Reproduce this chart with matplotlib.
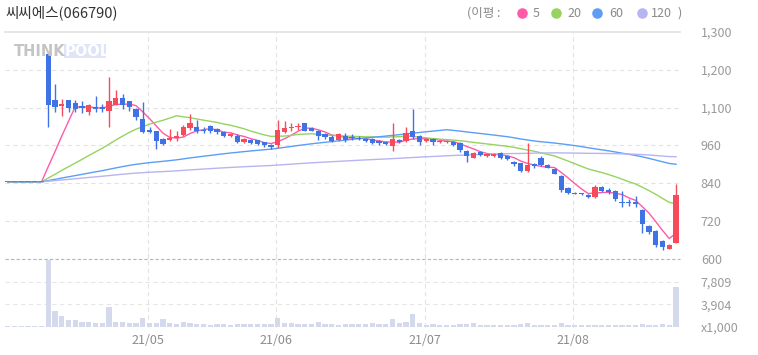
import numpy as np
import pandas as pd
import matplotlib
matplotlib.use("Agg")
import matplotlib.pyplot as plt
from matplotlib.patches import FancyBboxPatch

plt.rcParams['font.family'] = ['Noto Sans CJK KR', 'DejaVu Sans']

title = "씨씨에스(066790)"

# ---- data (6 flat halted days at 845, then 94 trading days) ----
opens = [845]*6 + [1251, 1104, 1086, 1104, 1094, 1086, 1067, 1083, 1083, 1068,
         1089, 1111, 1100, 1076, 1044, 1010, 1007, 981, 978, 984,
         994, 1015, 1020, 1010, 1023, 1013, 1002, 991, 991, 970,
         976, 976, 970, 962, 960, 1002, 1016, 1018, 1030, 1016,
         1007, 997, 988, 978, 991, 988, 984, 981, 981, 975,
         972, 957, 978, 974, 1007, 989, 973, 980, 970, 970,
         970, 969, 944, 922, 940, 928, 928, 937, 926, 909,
         904, 878, 900, 920, 897, 886, 865, 826, 808, 808,
         802, 797, 830, 818, 815, 781, 781, 782, 757, 706,
         689, 657, 634, 652]
highs = [845]*6 + [1255, 1155, 1107, 1104, 1104, 1101, 1092, 1118, 1092, 1176,
         1136, 1123, 1100, 1080, 1097, 1020, 1007, 985, 1013, 1005,
         1025, 1060, 1041, 1020, 1025, 1016, 1005, 1000, 995, 985,
         980, 978, 972, 965, 1041, 1036, 1030, 1030, 1032, 1018,
         1010, 1000, 992, 1000, 1000, 997, 990, 985, 985, 978,
         975, 1030, 982, 1017, 1076, 992, 985, 983, 978, 977,
         973, 972, 946, 940, 943, 936, 936, 940, 929, 912,
         906, 968, 905, 928, 900, 888, 866, 828, 812, 810,
         806, 836, 833, 826, 818, 815, 790, 800, 760, 710,
         692, 660, 648, 839]
lows = [845]*6 + [1020, 1065, 1052, 1065, 1065, 1062, 1058, 1067, 1067, 1020,
        1089, 1076, 1070, 1040, 998, 998, 950, 960, 975, 975,
        990, 1010, 1000, 1000, 1000, 997, 988, 988, 967, 967,
        965, 960, 955, 950, 953, 1000, 1005, 1010, 1005, 1005,
        978, 981, 970, 975, 970, 978, 978, 970, 965, 962,
        960, 944, 968, 970, 980, 962, 970, 960, 968, 968,
        958, 940, 907, 920, 928, 925, 925, 918, 915, 895,
        875, 876, 890, 895, 888, 869, 812, 808, 805, 804,
        795, 795, 812, 808, 785, 765, 768, 765, 683, 680,
        638, 631, 632, 650]
closes = [845]*6 + [1088, 1081, 1092, 1078, 1076, 1078, 1089, 1076, 1075, 1100,
          1111, 1089, 1081, 1049, 1002, 1004, 973, 965, 984, 991,
          1020, 1030, 1005, 1005, 1005, 1004, 991, 997, 970, 981,
          969, 965, 960, 956, 1010, 1016, 1020, 1023, 1007, 1007,
          991, 986, 974, 995, 978, 984, 981, 975, 967, 967,
          965, 981, 972, 999, 986, 970, 981, 970, 975, 974,
          962, 947, 926, 937, 930, 933, 933, 922, 918, 902,
          878, 897, 895, 898, 890, 871, 818, 811, 807, 806,
          797, 830, 815, 812, 790, 778, 778, 774, 713, 686,
          644, 639, 646, 802]
volumes = [200]*6 + [11600, 2700, 1860, 1080, 1080, 900, 900, 720, 720, 3480,
           900, 900, 720, 720, 1440, 720, 720, 1260, 720, 540,
           900, 720, 540, 480, 360, 480, 480, 360, 480, 480,
           480, 480, 480, 480, 1440, 720, 720, 540, 540, 540,
           780, 540, 540, 360, 540, 540, 540, 540, 720, 480,
           480, 1260, 660, 780, 2160, 720, 360, 480, 360, 360,
           360, 540, 540, 720, 300, 300, 300, 300, 300, 300,
           540, 720, 360, 300, 300, 300, 720, 300, 300, 300,
           300, 300, 300, 300, 300, 300, 300, 300, 480, 300,
           300, 480, 250, 6900]

# price history before the visible window (stock was halted at this price)
prior_price = 845
prior_days = 114

ma_periods = [5, 20, 60, 120]
ma_colors = ['#ff5aa8', '#96d35f', '#5c9ef6', '#b7b4f2']

price_ticks = [600, 720, 840, 960, 1080, 1200, 1320]
price_tick_labels = ['600', '720', '840', '960', '1,100', '1,200', '1,300']
vol_ticks = [0, 3904.5, 7809]
vol_tick_labels = ['x1,000', '3,904', '7,809']

month_labels = ['21/05', '21/06', '21/07', '21/08']
month_start = [21, 40, 62, 84]

# ---- figure ----
W, H = 758, 355
fig = plt.figure(figsize=(W/100, H/100), dpi=100)

def fx(px):
    return px / W

def fy(py):
    return 1 - py / H

left_px, right_px = 5, 680
top_px, mid_px, bot_px = 31.7, 259.3, 326.7

ax = fig.add_axes([fx(left_px), fy(mid_px), fx(right_px - left_px), (mid_px - top_px)/H])
axv = fig.add_axes([fx(left_px), fy(bot_px), fx(right_px - left_px), (bot_px - mid_px)/H])

n = len(closes)
x = np.arange(n)
o = np.array(opens, float); c = np.array(closes, float)
h = np.array(highs, float); l = np.array(lows, float)
v = np.array(volumes, float)

spacing = 6.75
xl = ((left_px - 7.8) / spacing, (right_px - 7.8) / spacing)

RED = '#f74a5a'
BLUE = '#3f72e4'

# moving averages
hist = np.concatenate([np.full(prior_days, prior_price, float), c])
for p, col in zip(ma_periods, ma_colors):
    ma = pd.Series(hist).rolling(p).mean().to_numpy()[prior_days:]
    ax.plot(x, ma, color=col, lw=1.0, zorder=2, solid_joinstyle='round')

up = c >= o
colors = np.where(up, RED, BLUE)
body_bot = np.minimum(o, c)
body_h = np.maximum(np.abs(c - o), 3.0)
ax.vlines(x, l, h, colors=colors, lw=1.0, zorder=3)
ax.bar(x, body_h, bottom=body_bot, width=0.78, color=colors, zorder=4, linewidth=0)

ax.set_xlim(*xl)
ax.set_ylim(600, 1320)

# grid lines
for t in price_ticks[1:-1]:
    ax.axhline(t, color='#e3e3e3', lw=0.8, ls=(0, (4, 3)), zorder=1)
ax.axhline(1320, color='#e2e2e2', lw=1.2, zorder=1, clip_on=False)
ax.axhline(600, color='#b5b5b5', lw=0.8, ls=(0, (3, 2)), zorder=5, clip_on=False)

for ms in month_start:
    ax.axvline(ms - 0.25, color='#e3e3e3', lw=0.8, ls=(0, (4, 3)), zorder=1)
    axv.axvline(ms - 0.25, color='#e3e3e3', lw=0.8, ls=(0, (4, 3)), zorder=1, ymax=1.1, clip_on=False)

ax.yaxis.tick_right()
ax.set_yticks(price_ticks)
ax.set_yticklabels(price_tick_labels)
ax.tick_params(axis='y', length=0, pad=15, labelsize=9, labelcolor='#9a9a9a')
ax.set_xticks([])
for s in ax.spines.values():
    s.set_visible(False)

# volume
axv.bar(x, v, width=0.78, color='#d4d9ec', linewidth=0, zorder=3)
axv.set_xlim(*xl)
axv.set_ylim(0, 3 * 3904.5)
for t in vol_ticks[1:]:
    axv.axhline(t, color='#e6e6e6', lw=0.8, ls=(0, (4, 3)), zorder=1)
axv.axhline(0, color='#e6e6e6', lw=0.8, zorder=1)
axv.yaxis.tick_right()
axv.set_yticks(vol_ticks)
axv.set_yticklabels(vol_tick_labels)
axv.tick_params(axis='y', length=0, pad=15, labelsize=9, labelcolor='#9a9a9a')
axv.set_xticks([ms - 0.25 for ms in month_start])
axv.set_xticklabels(month_labels)
axv.tick_params(axis='x', length=0, pad=5.5, labelsize=9, labelcolor='#8c8c8c')
for s in axv.spines.values():
    s.set_visible(False)
ax.patch.set_alpha(0)
axv.patch.set_alpha(0)

# title
fig.text(fx(5), fy(13), title, fontsize=10.5, color='#333333', va='center', ha='left')

# legend
ly = fy(13.3)
fig.text(fx(467), ly, '(이평 :', fontsize=9, color='#8a8a8a', va='center', ha='left')
leg_dots = [521.7, 556, 597, 642]
leg_txt_x = [533, 567, 609, 651]
for p, col, dx, tx in zip(ma_periods, ma_colors, leg_dots, leg_txt_x):
    fig.lines.append(plt.Line2D([fx(dx)], [ly], marker='o', markersize=7.6, color=col,
                                markeredgewidth=0, transform=fig.transFigure, figure=fig))
    fig.text(fx(tx), ly, str(p), fontsize=9, color='#8a8a8a', va='center', ha='left')
fig.text(fx(677), ly, ')', fontsize=9, color='#8a8a8a', va='center', ha='left')

# watermark
fig.patches.append(FancyBboxPatch((fx(64), fy(58)), fx(42), (14)/H, boxstyle='square,pad=0',
                                  transform=fig.transFigure, facecolor='#dfe4f6', edgecolor='none',
                                  figure=fig, zorder=0))
fig.text(fx(14), fy(51), 'THINK', fontsize=10.5, fontweight='bold', color='#c4c4c4',
         va='center', ha='left', family='DejaVu Sans')
fig.text(fx(65), fy(51), 'POOL', fontsize=10.5, fontweight='bold', color='#ffffff',
         va='center', ha='left', family='DejaVu Sans')

fig.savefig('out.png', dpi=100)
